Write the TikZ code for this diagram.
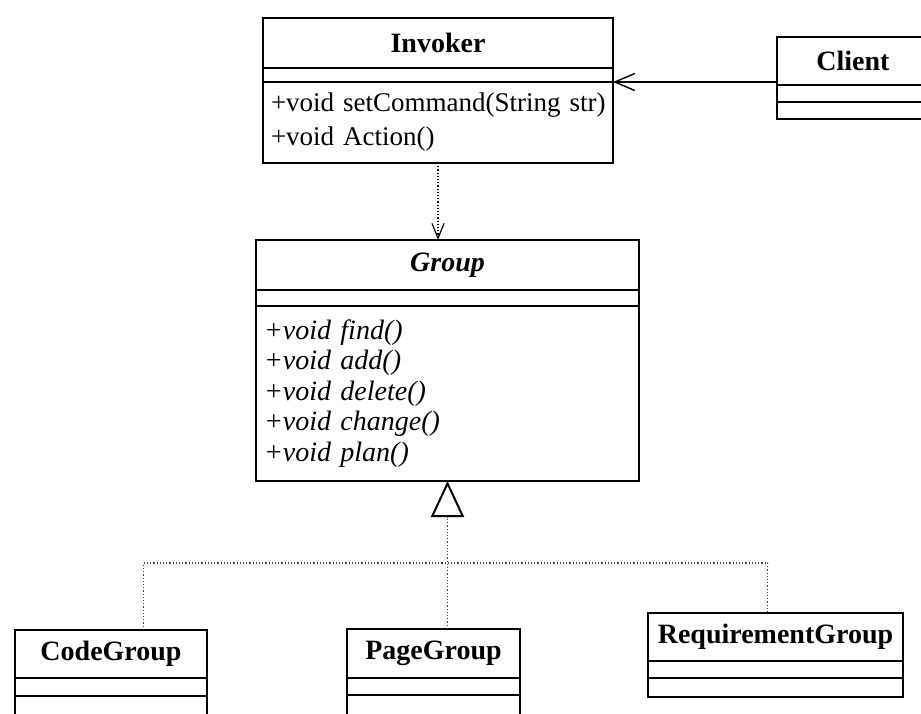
\documentclass[tikz,border=0pt]{standalone}
\usepackage{fontspec}
\setmainfont{Liberation Serif}
\usetikzlibrary{positioning,calc,arrows.meta}
\tikzstyle{cls}=[draw, line width=.7pt, inner sep=0, outer sep=0, font=\fontsize{14}{16}\selectfont\bfseries]
\tikzstyle{abstractcls}=[cls, font=\fontsize{14}{16}\selectfont\bfseries\itshape]
\tikzstyle{attr}=[draw, line width=.7pt, inner sep=0, outer sep=0]
\tikzstyle{ops}=[draw, line width=.7pt, inner xsep=4pt, inner ysep=0, outer sep=0, align=left, font=\fontsize{13.5}{17}\selectfont]
\tikzstyle{abstractops}=[ops, font=\fontsize{14}{15.2}\selectfont\itshape]
\tikzstyle{assoc}=[line width=.7pt, -{Straight Barb[length=10pt, width=8.5pt]}]
\tikzstyle{dep}=[densely dotted, line width=.6pt, -{Straight Barb[length=7.5pt, width=6pt]}]
\tikzstyle{realize}=[densely dotted, line width=.6pt, black!75]

\begin{document}
\begin{tikzpicture}[x=.5pt, y=-.5pt]
\useasboundingbox (0,0) rectangle (921,713);
% Invoker
\node at (438,43)[cls, minimum width=175pt, minimum height=25pt](invoker){Invoker};
\node[attr, below=0pt of invoker, minimum width=175pt, minimum height=7pt](invokerattr){};
\node[ops, below=0pt of invokerattr, text width=167pt, minimum height=40.5pt](invokerops){\mbox{+void setCommand(String str)}\\+void Action()};
% Client
\node at (853,61)[cls, minimum width=76pt, minimum height=24pt](client){Client};
\node[attr, below=0pt of client, minimum width=76pt, minimum height=8.5pt](clientattr){};
\node[attr, below=0pt of clientattr, minimum width=76pt, minimum height=8.5pt](clientops){};
% Group
\node at (447.5,265)[abstractcls, minimum width=191.5pt, minimum height=25pt](group){Group};
\node[attr, below=0pt of group, minimum width=191.5pt, minimum height=8pt](groupattr){};
\node[abstractops, below=0pt of groupattr, text width=183.5pt, minimum height=87.5pt](groupops){+void find()\\+void add()\\+void delete()\\+void change()\\+void plan()};
% subclasses
\node at (111,654)[cls, minimum width=96pt, minimum height=24pt](codegroup){CodeGroup};
\node[attr, below=0pt of codegroup, minimum width=96pt, minimum height=9pt](codeattr){};
\node[attr, below=0pt of codeattr, minimum width=96pt, minimum height=12pt](codeops){};
\node at (433.5,653.5)[cls, minimum width=86.5pt, minimum height=24.5pt](pagegroup){PageGroup};
\node[attr, below=0pt of pagegroup, minimum width=86.5pt, minimum height=8.5pt](pageattr){};
\node[attr, below=0pt of pageattr, minimum width=86.5pt, minimum height=12pt](pageops){};
\node at (775.5,637)[cls, minimum width=127.5pt, minimum height=24pt](reqgroup){RequirementGroup};
\node[attr, below=0pt of reqgroup, minimum width=127.5pt, minimum height=8.5pt](reqattr){};
\node[attr, below=0pt of reqattr, minimum width=127.5pt, minimum height=9.5pt](reqops){};
% connectors
\draw[assoc] (client.west |- invokerops.north east) -- (invokerops.north east);
\draw[dep] (invokerops.south) -- (invokerops.south |- group.north);
\coordinate (hub) at ($(groupops.south)+(0,82)$);
\draw[realize] ($(codegroup.north west)!.67!(codegroup.north east)$) |- (hub) -| ($(reqgroup.north west)!.47!(reqgroup.north east)$);
\draw[realize, -{Triangle[open, length=18pt, width=16.5pt, line width=1pt, black]}] (pagegroup.north -| groupops.south) -- (groupops.south);
\end{tikzpicture}
\end{document}
